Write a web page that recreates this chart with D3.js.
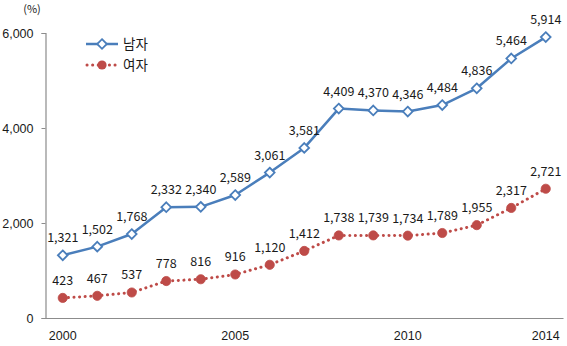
<!DOCTYPE html>
<html>
<head>
<meta charset="utf-8">
<script src="https://cdn.jsdelivr.net/npm/d3@7"></script>
<style>
  html, body { margin: 0; padding: 0; background: #fff; }
  svg { display: block; font-family: "Noto Sans CJK KR", "Noto Sans", sans-serif; }
</style>
</head>
<body>
<svg id="chart" width="567" height="346"></svg>
<script>
// Yearly counts by sex
const years = [2000, 2001, 2002, 2003, 2004, 2005, 2006, 2007, 2008, 2009, 2010, 2011, 2012, 2013, 2014];
const male = [1321, 1502, 1768, 2332, 2340, 2589, 3061, 3581, 4409, 4370, 4346, 4484, 4836, 5464, 5914];
const female = [423, 467, 537, 778, 816, 916, 1120, 1412, 1738, 1739, 1734, 1789, 1955, 2317, 2721];
const yTicks = [0, 2000, 4000, 6000];
const xTickYears = [2000, 2005, 2010, 2014];
const seriesNames = ["남자", "여자"];
const unitLabel = "(%)";

const svg = d3.select("#chart");
const plotLeft = 45.5, plotRight = 563, plotTop = 33, plotBottom = 318;

const x = d3.scaleBand().domain(years).range([plotLeft, plotRight]);
const y = d3.scaleLinear().domain([0, 6000]).range([plotBottom, plotTop]);
const cx = d => x(d) + x.bandwidth() / 2;

const fmt = d3.format(",");
const textColor = "#1a1a1a";
const blue = "#4a7ebb";
const red = "#be4b48";

// Y axis
const yAxis = d3.axisLeft(y).tickValues(yTicks).tickFormat(fmt).tickSize(4).tickPadding(8);
const gy = svg.append("g").attr("transform", `translate(${plotLeft},0)`).call(yAxis);
gy.select(".domain").attr("stroke", "#8c8c8c").attr("stroke-width", 1.2);
gy.selectAll(".tick line").attr("stroke", "#8c8c8c");
gy.selectAll(".tick text").attr("fill", textColor).style("font-size", "12.5px");

// X axis (labels only on selected years)
const xAxis = d3.axisBottom(x).tickValues(xTickYears).tickSize(0).tickPadding(13);
const gx = svg.append("g").attr("transform", `translate(0,${plotBottom})`).call(xAxis);
gx.select(".domain").attr("stroke", "#8c8c8c").attr("stroke-width", 1.2);
gx.selectAll(".tick text").attr("fill", textColor).style("font-size", "12.5px");

// Unit label
svg.append("text").attr("x", 32).attr("y", 13).attr("text-anchor", "middle")
  .attr("fill", textColor).style("font-size", "11px").text(unitLabel);

const line = d3.line().x((d, i) => cx(years[i])).y(d => y(d));

// Female series: dotted red line with filled circles
svg.append("path").datum(female).attr("d", line).attr("fill", "none")
  .attr("stroke", red).attr("stroke-width", 3).attr("stroke-dasharray", "0.1 5.5")
  .attr("stroke-linecap", "round");
svg.append("g").selectAll("circle").data(female).join("circle")
  .attr("cx", (d, i) => cx(years[i])).attr("cy", d => y(d)).attr("r", 4.6)
  .attr("fill", red).attr("stroke", red).attr("stroke-width", 0.8);

// Male series: solid blue line with hollow diamonds
svg.append("path").datum(male).attr("d", line).attr("fill", "none")
  .attr("stroke", blue).attr("stroke-width", 2.5).attr("stroke-linejoin", "round");
const diamond = d3.symbol().type(d3.symbolDiamond2).size(60);
svg.append("g").selectAll("path").data(male).join("path")
  .attr("d", diamond)
  .attr("transform", (d, i) => `translate(${cx(years[i])},${y(d)})`)
  .attr("fill", "#fff").attr("stroke", blue).attr("stroke-width", 1.8);

// Value labels
function labels(data) {
  svg.append("g").selectAll("text").data(data).join("text")
    .attr("x", (d, i) => cx(years[i])).attr("y", d => y(d) - 13)
    .attr("text-anchor", "middle").attr("fill", textColor)
    .style("font-size", "12.5px").text(d => fmt(d));
}
labels(male);
labels(female);

// Legend
const lg = svg.append("g");
lg.append("line").attr("x1", 86).attr("x2", 118).attr("y1", 44).attr("y2", 44)
  .attr("stroke", blue).attr("stroke-width", 2.5);
lg.append("path").attr("d", diamond).attr("transform", "translate(102,44)")
  .attr("fill", "#fff").attr("stroke", blue).attr("stroke-width", 1.8);
lg.append("text").attr("x", 123).attr("y", 49).attr("fill", textColor)
  .style("font-size", "13.5px").text(seriesNames[0]);
lg.append("line").attr("x1", 87).attr("x2", 118).attr("y1", 65).attr("y2", 65)
  .attr("stroke", red).attr("stroke-width", 3).attr("stroke-dasharray", "0.1 5.5")
  .attr("stroke-linecap", "round");
lg.append("circle").attr("cx", 102).attr("cy", 65).attr("r", 4.6).attr("fill", red);
lg.append("text").attr("x", 123).attr("y", 70).attr("fill", textColor)
  .style("font-size", "13.5px").text(seriesNames[1]);
</script>
</body>
</html>
